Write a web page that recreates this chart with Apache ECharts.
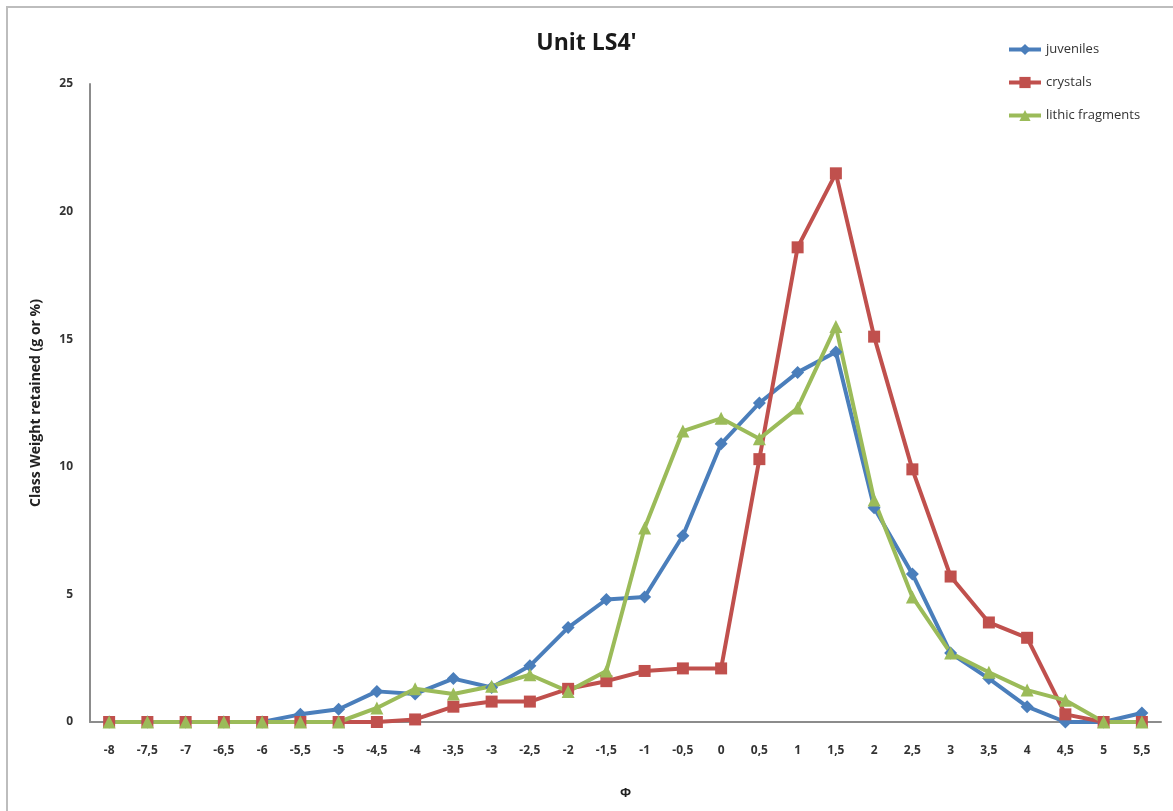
<!DOCTYPE html>
<html>
<head>
<meta charset="utf-8">
<title>Unit LS4'</title>
<script src="https://cdn.jsdelivr.net/npm/echarts@6/dist/echarts.min.js"></script>
<style>
  html, body { margin: 0; padding: 0; background: #fff; }
  #chart { width: 1173px; height: 811px; }
</style>
</head>
<body>
<div id="chart"></div>
<script>
// Grain-size classes (phi), labelled with decimal commas
const phiClasses = ['-8', '-7,5', '-7', '-6,5', '-6', '-5,5', '-5', '-4,5', '-4', '-3,5', '-3', '-2,5',
  '-2', '-1,5', '-1', '-0,5', '0', '0,5', '1', '1,5', '2', '2,5', '3', '3,5', '4', '4,5', '5', '5,5'];

// Class weight retained (g or %) per component
const juveniles = [0, 0, 0, 0, 0, 0.3, 0.5, 1.2, 1.1, 1.7, 1.35, 2.2,
  3.7, 4.8, 4.9, 7.3, 10.9, 12.5, 13.7, 14.5, 8.4, 5.8, 2.7, 1.7, 0.6, 0, 0, 0.35];
const crystals = [0, 0, 0, 0, 0, 0, 0, 0, 0.1, 0.6, 0.8, 0.8,
  1.3, 1.6, 2.0, 2.1, 2.1, 10.3, 18.6, 21.5, 15.1, 9.9, 5.7, 3.9, 3.3, 0.3, 0, 0];
const lithicFragments = [0, 0, 0, 0, 0, 0, 0, 0.55, 1.3, 1.1, 1.4, 1.85,
  1.2, 2.0, 7.6, 11.4, 11.9, 11.1, 12.3, 15.5, 8.7, 4.9, 2.7, 1.95, 1.25, 0.85, 0, 0];

const yTicks = { min: 0, max: 25, step: 5 };

const FONT = '"Open Sans", Lato, sans-serif';
const AXIS_GRAY = '#8c8c8c';

const chart = echarts.init(document.getElementById('chart'), null, { renderer: 'canvas' });

function lineSeries(name, data, color, symbol, size) {
  return {
    name: name,
    type: 'line',
    data: data,
    symbol: symbol,
    symbolSize: size,
    lineStyle: { color: color, width: 4 },
    itemStyle: { color: color },
    emphasis: { disabled: true },
    animation: false
  };
}

chart.setOption({
  backgroundColor: '#ffffff',
  animation: false,
  title: {
    text: "Unit LS4'",
    left: 'center',
    top: 27,
    textStyle: { fontFamily: FONT, fontSize: 23, fontWeight: 'bold', color: '#1a1a1a' }
  },
  legend: {
    orient: 'vertical',
    left: 1002,
    top: 38,
    itemGap: 20,
    itemWidth: 32,
    itemHeight: 14,
    lineStyle: { width: 4 },
    textStyle: { fontFamily: FONT, fontSize: 13, color: '#333' },
    data: ['juveniles', 'crystals', 'lithic fragments']
  },
  grid: { left: 90, right: 12, top: 84, bottom: 89 },
  xAxis: {
    type: 'category',
    data: phiClasses,
    boundaryGap: true,
    name: 'Φ',
    nameLocation: 'middle',
    nameGap: 65,
    nameTextStyle: { fontFamily: FONT, fontSize: 13, fontWeight: 'bold', color: '#222' },
    axisLine: { lineStyle: { color: AXIS_GRAY, width: 2 } },
    axisTick: { show: false },
    axisLabel: { interval: 0, margin: 23, fontFamily: FONT, fontSize: 12, fontWeight: 'bold', color: '#333' },
    splitLine: { show: false }
  },
  yAxis: {
    type: 'value',
    min: yTicks.min,
    max: yTicks.max,
    interval: yTicks.step,
    name: 'Class Weight retained (g or %)',
    nameLocation: 'middle',
    nameGap: 47,
    nameRotate: 90,
    nameTextStyle: { fontFamily: FONT, fontSize: 14, fontWeight: 'bold', color: '#222' },
    axisLine: { show: true, lineStyle: { color: AXIS_GRAY, width: 2 } },
    axisTick: { show: false },
    axisLabel: { margin: 17, fontFamily: FONT, fontSize: 12, fontWeight: 'bold', color: '#333' },
    splitLine: { show: false }
  },
  graphic: [{
    type: 'rect',
    shape: { x: 7, y: 7, width: 1200, height: 850 },
    style: { fill: 'none', stroke: '#bdbdbd', lineWidth: 2 },
    silent: true,
    z: -1
  }],
  series: [
    lineSeries('juveniles', juveniles, '#4a7ebb', 'diamond', 13),
    lineSeries('crystals', crystals, '#c0504d', 'rect', 12),
    lineSeries('lithic fragments', lithicFragments, '#9bbb59', 'triangle', 13)
  ]
});
</script>
</body>
</html>
